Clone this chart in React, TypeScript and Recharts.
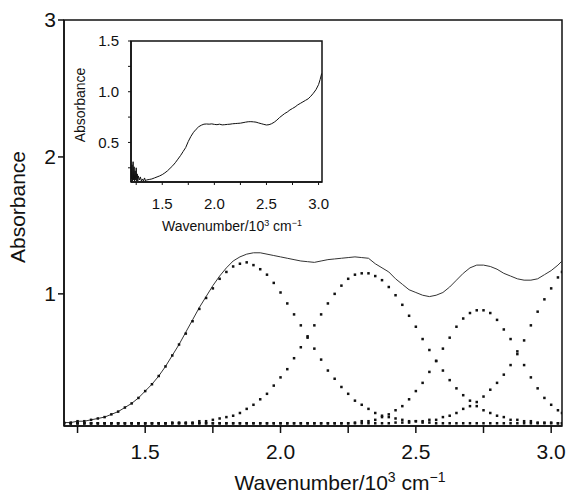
import React from 'react';
import { ComposedChart, LineChart, Line, XAxis, YAxis, ReferenceArea } from 'recharts';

const font = '"Liberation Sans", Arial, Helvetica, sans-serif';

// wavenumber grid (10^3 cm^-1) of the fitted spectrum
const wavenumber = [
  1.2, 1.225, 1.25, 1.275, 1.3, 1.325, 1.35, 1.375, 1.4, 1.425,
  1.45, 1.475, 1.5, 1.525, 1.55, 1.575, 1.6, 1.625, 1.65, 1.675,
  1.7, 1.725, 1.75, 1.775, 1.8, 1.825, 1.85, 1.875, 1.9, 1.925,
  1.95, 1.975, 2.0, 2.025, 2.05, 2.075, 2.1, 2.125, 2.15, 2.175,
  2.2, 2.225, 2.25, 2.275, 2.3, 2.325, 2.35, 2.375, 2.4, 2.425,
  2.45, 2.475, 2.5, 2.525, 2.55, 2.575, 2.6, 2.625, 2.65, 2.675,
  2.7, 2.725, 2.75, 2.775, 2.8, 2.825, 2.85, 2.875, 2.9, 2.925,
  2.95, 2.975, 3.0, 3.025, 3.04,
];

// measured absorbance (thin line)
const total = [
  0.06, 0.06, 0.07, 0.07, 0.08, 0.09, 0.10, 0.12, 0.14, 0.17,
  0.20, 0.24, 0.29, 0.34, 0.40, 0.47, 0.55, 0.63, 0.72, 0.81,
  0.90, 0.98, 1.06, 1.13, 1.19, 1.24, 1.27, 1.29, 1.30, 1.30,
  1.29, 1.28, 1.27, 1.26, 1.25, 1.24, 1.235, 1.23, 1.24, 1.25,
  1.255, 1.26, 1.265, 1.27, 1.265, 1.26, 1.22, 1.19, 1.16, 1.11,
  1.07, 1.03, 1.01, 0.99, 0.98, 0.99, 1.01, 1.05, 1.10, 1.15,
  1.19, 1.21, 1.21, 1.20, 1.18, 1.15, 1.13, 1.11, 1.10, 1.10,
  1.11, 1.14, 1.17, 1.21, 1.24,
];

// fitted bands (dotted)
const band1 = [
  0.06, 0.06, 0.07, 0.07, 0.08, 0.09, 0.10, 0.12, 0.14, 0.17,
  0.20, 0.24, 0.29, 0.34, 0.40, 0.47, 0.55, 0.63, 0.71, 0.80,
  0.89, 0.97, 1.04, 1.11, 1.16, 1.20, 1.22, 1.23, 1.21, 1.18,
  1.14, 1.08, 1.01, 0.93, 0.85, 0.77, 0.68, 0.60, 0.52, 0.44,
  0.38, 0.32, 0.27, 0.22, 0.19, 0.16, 0.13, 0.11, 0.10, 0.09,
  0.08, 0.07, 0.07, 0.06, 0.06, 0.055, 0.055, 0.055, 0.055, 0.055,
  0.055, 0.055, 0.055, 0.055, 0.055, 0.055, 0.055, 0.055, 0.055, 0.055,
  0.055, 0.055, 0.055, 0.055, 0.055,
];

const band2 = [
  0.055, 0.055, 0.055, 0.055, 0.055, 0.055, 0.055, 0.055, 0.055, 0.055,
  0.055, 0.055, 0.055, 0.055, 0.055, 0.055, 0.06, 0.06, 0.06, 0.06,
  0.07, 0.07, 0.08, 0.09, 0.10, 0.11, 0.13, 0.16, 0.19, 0.23,
  0.27, 0.33, 0.39, 0.45, 0.53, 0.61, 0.69, 0.77, 0.85, 0.93,
  1.00, 1.06, 1.11, 1.14, 1.15, 1.15, 1.13, 1.10, 1.05, 0.99,
  0.92, 0.84, 0.76, 0.67, 0.59, 0.51, 0.44, 0.37, 0.31, 0.26,
  0.22, 0.18, 0.15, 0.13, 0.11, 0.10, 0.08, 0.08, 0.07, 0.07,
  0.06, 0.06, 0.06, 0.055, 0.055,
];

const band3 = [
  0.055, 0.055, 0.055, 0.055, 0.055, 0.055, 0.055, 0.055, 0.055, 0.055,
  0.055, 0.055, 0.055, 0.055, 0.055, 0.055, 0.055, 0.055, 0.055, 0.055,
  0.055, 0.055, 0.055, 0.055, 0.055, 0.055, 0.055, 0.055, 0.055, 0.055,
  0.055, 0.055, 0.055, 0.055, 0.055, 0.055, 0.055, 0.055, 0.055, 0.055,
  0.055, 0.055, 0.055, 0.06, 0.07, 0.07, 0.08, 0.10, 0.12, 0.15,
  0.18, 0.23, 0.29, 0.35, 0.43, 0.51, 0.60, 0.68, 0.76, 0.82,
  0.86, 0.88, 0.88, 0.86, 0.81, 0.74, 0.67, 0.58, 0.48, 0.39,
  0.31, 0.24, 0.19, 0.15, 0.13,
];

const band4 = [
  0.055, 0.055, 0.055, 0.055, 0.055, 0.055, 0.055, 0.055, 0.055, 0.055,
  0.055, 0.055, 0.055, 0.055, 0.055, 0.055, 0.055, 0.055, 0.055, 0.055,
  0.055, 0.055, 0.055, 0.055, 0.055, 0.055, 0.055, 0.055, 0.055, 0.055,
  0.055, 0.055, 0.055, 0.055, 0.055, 0.055, 0.055, 0.055, 0.055, 0.055,
  0.055, 0.055, 0.055, 0.055, 0.055, 0.055, 0.055, 0.055, 0.055, 0.06,
  0.06, 0.06, 0.07, 0.07, 0.08, 0.08, 0.10, 0.11, 0.13, 0.16,
  0.18, 0.21, 0.25, 0.30, 0.35, 0.41, 0.48, 0.56, 0.66, 0.77,
  0.87, 0.96, 1.04, 1.12, 1.16,
];

// inset: full absorbance spectrum
const insetWavenumber = [
  1.2, 1.205, 1.21, 1.215, 1.22, 1.225, 1.23, 1.235, 1.24, 1.245,
  1.25, 1.255, 1.26, 1.265, 1.27, 1.28, 1.29, 1.3, 1.31, 1.32,
  1.33, 1.34, 1.35, 1.375, 1.4, 1.425, 1.45, 1.475, 1.5, 1.525,
  1.55, 1.575, 1.6, 1.625, 1.65, 1.675, 1.7, 1.725, 1.75, 1.775,
  1.8, 1.825, 1.85, 1.875, 1.9, 1.925, 1.95, 1.975, 2.0, 2.025,
  2.05, 2.075, 2.1, 2.125, 2.15, 2.175, 2.2, 2.225, 2.25, 2.275,
  2.3, 2.325, 2.35, 2.375, 2.4, 2.425, 2.45, 2.475, 2.5, 2.525,
  2.55, 2.575, 2.6, 2.625, 2.65, 2.675, 2.7, 2.725, 2.75, 2.775,
  2.8, 2.825, 2.85, 2.875, 2.9, 2.925, 2.95, 2.975, 3.0, 3.015,
  3.03,
];

const insetAbsorbance = [
  0.22, 0.14, 0.28, 0.12, 0.31, 0.13, 0.26, 0.12, 0.22, 0.13,
  0.25, 0.12, 0.19, 0.12, 0.17, 0.13, 0.16, 0.12, 0.14, 0.12,
  0.15, 0.12, 0.13, 0.135, 0.14, 0.15, 0.16, 0.17, 0.183, 0.20,
  0.22, 0.245, 0.27, 0.30, 0.335, 0.37, 0.41, 0.45, 0.51, 0.56,
  0.60, 0.63, 0.655, 0.67, 0.68, 0.682, 0.68, 0.683, 0.678, 0.675,
  0.68, 0.673, 0.675, 0.678, 0.68, 0.684, 0.686, 0.688, 0.69, 0.695,
  0.70, 0.704, 0.705, 0.703, 0.70, 0.692, 0.685, 0.678, 0.672, 0.675,
  0.685, 0.70, 0.72, 0.745, 0.765, 0.785, 0.80, 0.82, 0.835, 0.85,
  0.87, 0.885, 0.90, 0.915, 0.93, 0.955, 0.985, 1.02, 1.07, 1.12,
  1.18,
];

const mainXTicks = [1.25, 1.5, 1.75, 2.0, 2.25, 2.5, 2.75, 3.0];
const mainYTicks = [1, 2, 3];
const insetXTicks = [1.25, 1.5, 1.75, 2.0, 2.25, 2.5, 2.75, 3.0];
const insetYTicks = [0.25, 0.5, 0.75, 1.0, 1.25, 1.5];
const majorX = [1.5, 2.0, 2.5, 3.0];
const majorInsetY = [0.5, 1.0, 1.5];

const mainRows = wavenumber.map((x, i) => ({
  x,
  total: total[i],
  band1: band1[i],
  band2: band2[i],
  band3: band3[i],
  band4: band4[i],
}));

const insetRows = insetWavenumber.map((x, i) => ({ x, y: insetAbsorbance[i] }));

const Square = (props: any) => {
  const { cx, cy, index, dataKey } = props;
  if (cx == null || cy == null) return <g key={`${dataKey}-${index}`} />;
  return <rect key={`${dataKey}-${index}`} x={cx - 1.25} y={cy - 1.25} width={2.5} height={2.5} fill="#111" />;
};

// "Wavenumber/10^3 cm^-1" with real superscripts
const WaveTitle = ({ x, y, size }: { x: number; y: number; size: number }) => {
  const sup = Math.round(size * 0.65);
  const up = Math.round(size * 0.38);
  return (
    <text x={x} y={y} textAnchor="middle" fontFamily={font} fontSize={size} fill="#111">
      <tspan>Wavenumber/10</tspan>
      <tspan dy={-up} fontSize={sup}>3</tspan>
      <tspan dy={up}>{'\u00a0cm'}</tspan>
      <tspan dy={-up} fontSize={sup}>{'\u22121'}</tspan>
    </text>
  );
};

const VTitle = ({ x, y, size }: { x: number; y: number; size: number }) => (
  <text x={x} y={y} transform={`rotate(-90 ${x} ${y})`} textAnchor="middle" fontFamily={font} fontSize={size} fill="#111">
    Absorbance
  </text>
);

const axisStroke = { stroke: '#111', strokeWidth: 1.5 };

export default function App() {
  return (
    <div style={{ position: 'absolute', left: 0, top: 0, width: 571, height: 494, background: '#fff' }}>
      <div style={{ position: 'absolute', left: 0, top: 0 }}>
        <ComposedChart width={571} height={494} data={mainRows} margin={{ top: 20, right: 9, bottom: 0, left: 0 }}>
          <XAxis
            type="number"
            dataKey="x"
            domain={[1.2, 3.04]}
            allowDataOverflow
            ticks={mainXTicks}
            interval={0}
            tickFormatter={(v: number) => (majorX.includes(v) ? v.toFixed(1) : '')}
            height={68}
            tickSize={7}
            tickMargin={11}
            axisLine={axisStroke}
            tickLine={axisStroke}
            tick={{ fontSize: 21, fill: '#111', fontFamily: font }}
            label={{ content: () => <WaveTitle x={340} y={490} size={21} /> }}
          />
          <YAxis
            type="number"
            domain={[0.035, 3]}
            allowDataOverflow
            ticks={mainYTicks}
            interval={0}
            width={64}
            tickSize={6}
            tickMargin={2}
            axisLine={axisStroke}
            tickLine={axisStroke}
            tick={{ fontSize: 21, fill: '#111', fontFamily: font }}
            label={{ content: () => <VTitle x={25} y={207} size={21} /> }}
          />
          <ReferenceArea x1={1.2} x2={3.04} y1={0.035} y2={3} fill="none" stroke="#111" strokeWidth={1.5} />
          <Line dataKey="band1" stroke="none" dot={Square} activeDot={false} isAnimationActive={false} />
          <Line dataKey="band2" stroke="none" dot={Square} activeDot={false} isAnimationActive={false} />
          <Line dataKey="band3" stroke="none" dot={Square} activeDot={false} isAnimationActive={false} />
          <Line dataKey="band4" stroke="none" dot={Square} activeDot={false} isAnimationActive={false} />
          <Line dataKey="total" stroke="#333" strokeWidth={1} dot={false} activeDot={false} isAnimationActive={false} />
        </ComposedChart>
      </div>
      <div style={{ position: 'absolute', left: 0, top: 0 }}>
        <LineChart width={340} height={240} data={insetRows} margin={{ top: 41, right: 18, bottom: 0, left: 0 }}>
          <XAxis
            type="number"
            dataKey="x"
            domain={[1.2, 3.033]}
            allowDataOverflow
            ticks={insetXTicks}
            interval={0}
            tickFormatter={(v: number) => (majorX.includes(v) ? v.toFixed(1) : '')}
            height={58}
            tickSize={3}
            tickMargin={13}
            axisLine={axisStroke}
            tickLine={{ stroke: '#111', strokeWidth: 1 }}
            tick={{ fontSize: 15, fill: '#111', fontFamily: font }}
            label={{ content: () => <WaveTitle x={232} y={231} size={14} /> }}
          />
          <YAxis
            type="number"
            domain={[0.11, 1.5]}
            allowDataOverflow
            ticks={insetYTicks}
            interval={0}
            tickFormatter={(v: number) => (majorInsetY.includes(v) ? v.toFixed(1) : '')}
            width={131}
            tickSize={3}
            tickMargin={9}
            axisLine={axisStroke}
            tickLine={{ stroke: '#111', strokeWidth: 1 }}
            tick={{ fontSize: 15, fill: '#111', fontFamily: font }}
            label={{ content: () => <VTitle x={85} y={105} size={14} /> }}
          />
          <ReferenceArea x1={1.2} x2={3.033} y1={0.11} y2={1.5} fill="none" stroke="#111" strokeWidth={1.5} />
          <Line dataKey="y" stroke="#111" strokeWidth={1} dot={false} activeDot={false} isAnimationActive={false} />
        </LineChart>
      </div>
    </div>
  );
}
